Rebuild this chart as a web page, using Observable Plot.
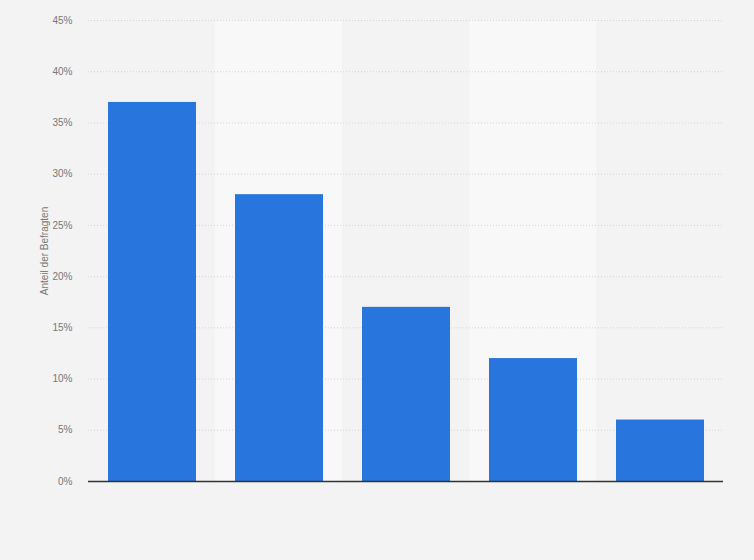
<!DOCTYPE html>
<html>
<head>
<meta charset="utf-8">
<script src="https://cdn.jsdelivr.net/npm/d3@7"></script>
<script src="https://cdn.jsdelivr.net/npm/@observablehq/plot@0.6"></script>
<style>
  html, body { margin: 0; padding: 0; background: #f3f3f3; }
  #chart { width: 754px; height: 560px; }
</style>
</head>
<body>
<div id="chart"></div>
<script>
const categories = ["1", "2", "3", "4", "5"];
const values = [37, 28, 17, 12, 6];
const yTicks = [0, 5, 10, 15, 20, 25, 30, 35, 40, 45];
const yLabel = "Anteil der Befragten";

const data = categories.map((c, i) => ({cat: c, value: values[i]}));
const stripes = categories.filter((c, i) => i % 2 === 1).map(c => ({cat: c}));

const chart = Plot.plot({
  width: 754,
  height: 560,
  marginLeft: 88,
  marginRight: 31,
  marginTop: 20,
  marginBottom: 79,
  style: {background: "#f3f3f3", fontFamily: "'Liberation Sans', Arial, sans-serif", fontSize: "10px", color: "#777"},
  x: {domain: categories, padding: 0, axis: null},
  y: {domain: [0, 45], ticks: yTicks},
  marks: [
    Plot.barY(stripes, {x: "cat", y1: 0, y2: 45, fill: "#f8f8f8"}),
    Plot.gridY(yTicks, {stroke: "#d4d4d4", strokeOpacity: 1, strokeDasharray: "1,2"}),
    Plot.axisY(yTicks, {tickSize: 0, tickPadding: 16, tickFormat: d => d + "%", label: yLabel, labelArrow: false, labelAnchor: "center", labelOffset: 48, fill: "#777", fontSize: 10}),
    Plot.barY(data, {x: "cat", y: "value", fill: "#2876dd", insetLeft: 20, insetRight: 19}),
    Plot.ruleY([0], {stroke: "#333", strokeWidth: 1.5})
  ]
});
document.getElementById("chart").appendChild(chart);
</script>
</body>
</html>
